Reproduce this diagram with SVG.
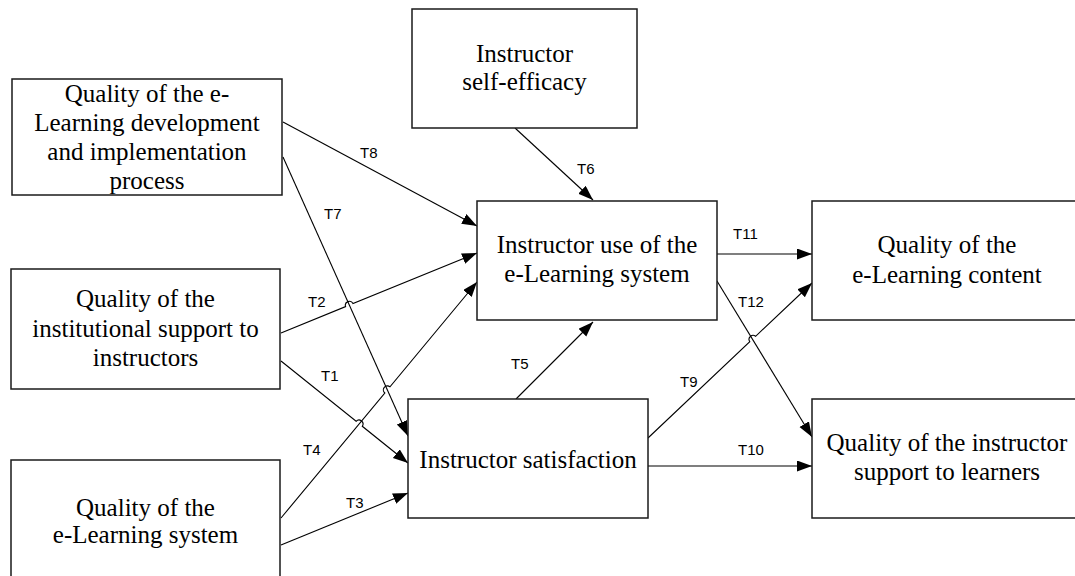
<svg xmlns="http://www.w3.org/2000/svg" width="1075" height="576" viewBox="0 0 1075 576">
  <style>
    .box { fill: #ffffff; stroke: #1a1a1a; stroke-width: 1.5; }
    .txt { font-family: "Liberation Serif", "Times New Roman", serif; font-size: 25px; fill: #000; text-anchor: middle; }
    .lbl { font-family: "Liberation Sans", Arial, sans-serif; font-size: 15px; fill: #000; }
    .edge { fill: none; stroke: #000; stroke-width: 1.1; marker-end: url(#arrow); }
  </style>
  <defs>
    <marker id="arrow" markerUnits="userSpaceOnUse" markerWidth="16" markerHeight="12" refX="15" refY="5.5" orient="auto">
      <path d="M0,0 L15,5.5 L0,11 z" fill="#000"/>
    </marker>
  </defs>
  <rect width="1075" height="576" fill="#ffffff"/>

  <!-- connectors; crossings drawn with small line jumps -->
  <g id="connectors">
    <path class="edge" d="M283,122 L477,226"/>
    <path class="edge" d="M283,157 L408,436"/>
    <path class="edge" d="M281,333 L345.6,306.6 A4,4 0 0 1 353,303.6 L477,253"/>
    <path class="edge" d="M281,361 L356.1,421.3 A4,4 0 0 1 362.3,426.3 L408,463"/>
    <path class="edge" d="M281,518 L384.8,393 A4,4 0 0 1 390,386.8 L477,282"/>
    <path class="edge" d="M281,545 L408,493"/>
    <path class="edge" d="M515,128 L593,200"/>
    <path class="edge" d="M516,399 L593,322"/>
    <path class="edge" d="M717,254 L812,254"/>
    <path class="edge" d="M717,281 L812,437"/>
    <path class="edge" d="M648,438 L749.8,341.7 A4,4 0 0 1 755.6,336.3 L812,283"/>
    <path class="edge" d="M648,466 L812,466"/>

    <text class="lbl" x="360" y="158">T8</text>
    <text class="lbl" x="324" y="219">T7</text>
    <text class="lbl" x="308" y="307">T2</text>
    <text class="lbl" x="321" y="381">T1</text>
    <text class="lbl" x="303" y="455">T4</text>
    <text class="lbl" x="346" y="508">T3</text>
    <text class="lbl" x="577" y="174">T6</text>
    <text class="lbl" x="511" y="369">T5</text>
    <text class="lbl" x="733" y="239">T11</text>
    <text class="lbl" x="738" y="307">T12</text>
    <text class="lbl" x="680" y="387">T9</text>
    <text class="lbl" x="738" y="455">T10</text>
  </g>

  <g id="dev-process">
    <rect class="box" x="12" y="79" width="270" height="116"/>
    <text class="txt" x="147" y="102">Quality of the e-</text>
    <text class="txt" x="147" y="131">Learning development</text>
    <text class="txt" x="147" y="160">and implementation</text>
    <text class="txt" x="147" y="189">process</text>
  </g>

  <g id="institutional-support">
    <rect class="box" x="11" y="269" width="269" height="120"/>
    <text class="txt" x="145.5" y="307">Quality of the</text>
    <text class="txt" x="145.5" y="337">institutional support to</text>
    <text class="txt" x="145.5" y="366">instructors</text>
  </g>

  <g id="elearning-system">
    <rect class="box" x="11" y="460" width="269" height="125"/>
    <text class="txt" x="145.5" y="516">Quality of the</text>
    <text class="txt" x="145.5" y="543">e-Learning system</text>
  </g>

  <g id="self-efficacy">
    <rect class="box" x="412" y="9" width="225" height="119"/>
    <text class="txt" x="524.5" y="62">Instructor</text>
    <text class="txt" x="524.5" y="90">self-efficacy</text>
  </g>

  <g id="instructor-use">
    <rect class="box" x="477" y="201" width="240" height="119"/>
    <text class="txt" x="597" y="253">Instructor use of the</text>
    <text class="txt" x="597" y="282">e-Learning system</text>
  </g>

  <g id="instructor-satisfaction">
    <rect class="box" x="408" y="399" width="240" height="119"/>
    <text class="txt" x="528" y="468">Instructor satisfaction</text>
  </g>

  <g id="content-quality">
    <rect class="box" x="812" y="201" width="270" height="119"/>
    <text class="txt" x="947" y="253">Quality of the</text>
    <text class="txt" x="947" y="283">e-Learning content</text>
  </g>

  <g id="learner-support">
    <rect class="box" x="812" y="399" width="270" height="119"/>
    <text class="txt" x="947" y="451">Quality of the instructor</text>
    <text class="txt" x="947" y="480">support to learners</text>
  </g>
</svg>
